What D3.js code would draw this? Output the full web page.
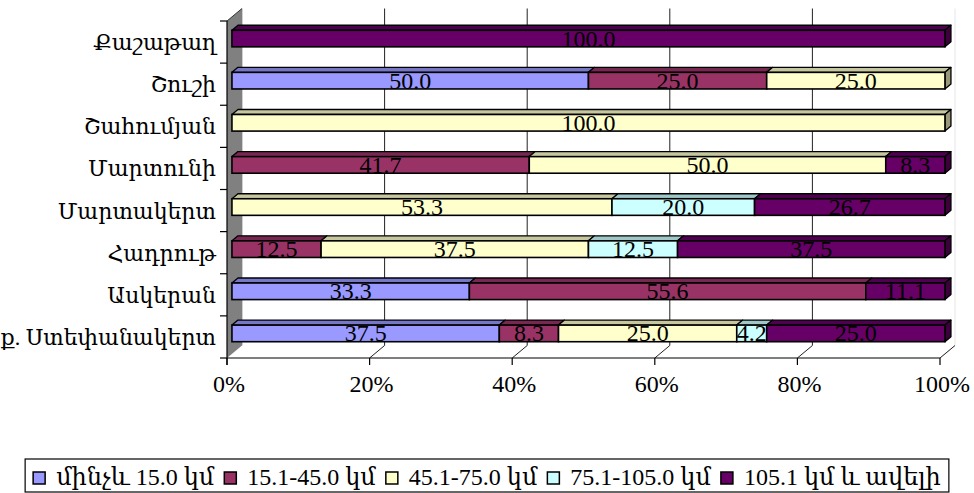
<!DOCTYPE html>
<html>
<head>
<meta charset="utf-8">
<script src="https://cdn.jsdelivr.net/npm/d3@7/dist/d3.min.js"></script>
<style>
  html, body { margin: 0; padding: 0; background: #fff; }
  svg { display: block; }
  text { font-family: "Liberation Serif", "DejaVu Serif", serif; }
</style>
</head>
<body>
<svg id="chart" width="974" height="493"></svg>
<script>
// Regions, listed top to bottom
const categories = ["Քաշաթաղ", "Շուշի", "Շահումյան", "Մարտունի", "Մարտակերտ", "Հադրութ", "Ասկերան", "ք. Ստեփանակերտ"];

// Distance groups (%)
const seriesNames = ["մինչև 15.0 կմ", "15.1-45.0 կմ", "45.1-75.0 կմ", "75.1-105.0 կմ", "105.1 կմ և ավելի"];
const upTo15     = [0, 50.0, 0, 0, 0, 0, 33.3, 37.5];
const from15to45 = [0, 25.0, 0, 41.7, 0, 12.5, 55.6, 8.3];
const from45to75 = [0, 25.0, 100.0, 50.0, 53.3, 37.5, 0, 25.0];
const from75to105 = [0, 0, 0, 0, 20.0, 12.5, 0, 4.2];
const over105    = [100.0, 0, 0, 8.3, 26.7, 37.5, 11.1, 25.0];
const seriesValues = [upTo15, from15to45, from45to75, from75to105, over105];
const seriesColors = ["#9999FF", "#993366", "#FFFFCC", "#CCFFFF", "#660066"];

const tickValues = [0, 20, 40, 60, 80, 100];

const svg = d3.select("#chart");

// Front plane scales; depth is a fixed oblique offset
const x = d3.scaleLinear().domain([0, 100]).range([227, 940]);
const y = d3.scaleBand().domain(categories).range([21, 358]).padding(0);
const DX = 15, DY = 12.5;
const zFront = 0.33, zBack = 0.73;
const halfH = 8.3;

const px = (v, z) => x(v) + z * DX;
const py = (yy, z) => yy - z * DY;

const yTop = y.range()[0], yBot = y.range()[1];

// Back wall
svg.append("rect")
  .attr("x", px(0, 1)).attr("y", py(yTop, 1))
  .attr("width", x(100) - x(0)).attr("height", yBot - yTop)
  .attr("fill", "#fff");
svg.append("line")
  .attr("x1", px(100, 1)).attr("x2", px(100, 1))
  .attr("y1", py(yTop, 1)).attr("y2", py(yBot, 1))
  .attr("stroke", "#e6e6e6").attr("stroke-width", 1);

// Floor edge on the right
svg.append("line")
  .attr("x1", x(100)).attr("y1", yBot)
  .attr("x2", px(100, 1)).attr("y2", py(yBot, 1))
  .attr("stroke", "#e0e0e0").attr("stroke-width", 1).attr("stroke-dasharray", "1,1");

// Gridlines on back wall and floor
const grid = svg.append("g");
tickValues.filter(t => t > 0 && t < 100).forEach(t => {
  grid.append("line")
    .attr("x1", px(t, 1)).attr("x2", px(t, 1))
    .attr("y1", py(yTop, 1)).attr("y2", py(yBot, 1))
    .attr("stroke", "#222").attr("stroke-width", 1);
});
tickValues.filter(t => t > 0).forEach(t => {
  grid.append("line")
    .attr("x1", x(t)).attr("y1", yBot)
    .attr("x2", px(t, 1)).attr("y2", py(yBot, 1))
    .attr("stroke", "#222").attr("stroke-width", 1);
});

// Left side wall
svg.append("path")
  .attr("d", d3.line()([[x(0), yTop], [px(0, 1), py(yTop, 1)], [px(0, 1), py(yBot, 1)], [x(0), yBot]]) + "Z")
  .attr("fill", "#808080");
svg.append("line")
  .attr("x1", px(0, 1) + 0.5).attr("x2", px(0, 1) + 0.5)
  .attr("y1", py(yTop, 1)).attr("y2", py(yBot, 1))
  .attr("stroke", "#d0d0d0").attr("stroke-width", 1);
svg.append("line")
  .attr("x1", x(0)).attr("y1", yTop)
  .attr("x2", px(0, 1)).attr("y2", py(yTop, 1))
  .attr("stroke", "#333").attr("stroke-width", 1);

// Bars
const shade = (c, k) => { const r = d3.rgb(c); return d3.rgb(r.r * k, r.g * k, r.b * k).formatHex(); };
const bars = svg.append("g");
const labels = svg.append("g");
categories.forEach((cat, ci) => {
  const yc = y(cat) + y.bandwidth() / 2 + 0.6;
  let acc = 0;
  const segs = [];
  seriesValues.forEach((vals, si) => {
    const v = vals[ci];
    if (v > 0) { segs.push({ si, v0: acc, v1: acc + v, v }); acc += v; }
  });
  segs.forEach((s, k) => {
    const col = seriesColors[s.si];
    const g = bars.append("g");
    const t0 = py(yc - halfH, zFront), b0 = py(yc + halfH, zFront);
    const t1 = py(yc - halfH, zBack), b1 = py(yc + halfH, zBack);
    // top face
    g.append("path")
      .attr("d", d3.line()([[px(s.v0, zFront), t0], [px(s.v0, zBack), t1], [px(s.v1, zBack), t1], [px(s.v1, zFront), t0]]) + "Z")
      .attr("fill", shade(col, 0.78)).attr("stroke", "#000").attr("stroke-width", 1.3).attr("stroke-linejoin", "round");
    // right end face
    if (k === segs.length - 1) {
      g.append("path")
        .attr("d", d3.line()([[px(s.v1, zFront), t0], [px(s.v1, zBack), t1], [px(s.v1, zBack), b1], [px(s.v1, zFront), b0]]) + "Z")
        .attr("fill", shade(col, 0.6)).attr("stroke", "#000").attr("stroke-width", 1.3).attr("stroke-linejoin", "round");
    }
    // front face
    g.append("rect")
      .attr("x", px(s.v0, zFront)).attr("y", t0)
      .attr("width", px(s.v1, zFront) - px(s.v0, zFront)).attr("height", b0 - t0)
      .attr("fill", col).attr("stroke", "#000").attr("stroke-width", 1.6);
    labels.append("text")
      .attr("x", (px(s.v0, zFront) + px(s.v1, zFront)) / 2)
      .attr("y", (t0 + b0) / 2 + 8)
      .attr("text-anchor", "middle")
      .attr("font-size", 24)
      .attr("fill", "#000")
      .text(s.v.toFixed(1));
  });
});

// Category axis
const axY = svg.append("g");
axY.append("line").attr("x1", x(0)).attr("x2", x(0)).attr("y1", yTop).attr("y2", yBot + 7)
  .attr("stroke", "#000").attr("stroke-width", 1.2);
const bounds = categories.map(c => y(c)).concat([yBot]);
bounds.forEach(b => {
  axY.append("line").attr("x1", x(0) - 7).attr("x2", x(0)).attr("y1", b).attr("y2", b)
    .attr("stroke", "#000").attr("stroke-width", 1.2);
});
categories.forEach(c => {
  axY.append("text")
    .attr("x", 216).attr("y", y(c) + y.bandwidth() / 2 + 8)
    .attr("text-anchor", "end").attr("font-size", 22)
    .text(c);
});

// Value axis
const axX = svg.append("g");
axX.append("line").attr("x1", x(0)).attr("x2", x(100)).attr("y1", yBot).attr("y2", yBot)
  .attr("stroke", "#000").attr("stroke-width", 1.2);
tickValues.forEach(t => {
  axX.append("line").attr("x1", x(t)).attr("x2", x(t)).attr("y1", yBot).attr("y2", yBot + 7)
    .attr("stroke", "#000").attr("stroke-width", 1.2);
  axX.append("text")
    .attr("x", x(t) + 2).attr("y", 392)
    .attr("text-anchor", "middle").attr("font-size", 24)
    .text(t + "%");
});

// Legend: box first, then items laid out and centred under the chart
const legendBox = svg.append("rect")
  .attr("y", 459).attr("height", 33)
  .attr("fill", "#fff").attr("stroke", "#000").attr("stroke-width", 1.2);
const legend = svg.append("g");
let cursor = 0;
seriesNames.forEach((name, i) => {
  const g = legend.append("g");
  g.append("rect").attr("x", cursor).attr("y", 472).attr("width", 12).attr("height", 12)
    .attr("fill", seriesColors[i]).attr("stroke", "#000").attr("stroke-width", 1.5);
  const t = g.append("text").attr("x", cursor + 23).attr("y", 485).attr("font-size", 24).text(name);
  const w = t.node().getComputedTextLength();
  cursor += 23 + w + 10;
});
const legendW = cursor - 10;
const lx = 487 - legendW / 2;
legend.attr("transform", `translate(${lx},0)`);
legendBox.attr("x", lx - 8).attr("width", legendW + 16);
</script>
</body>
</html>
